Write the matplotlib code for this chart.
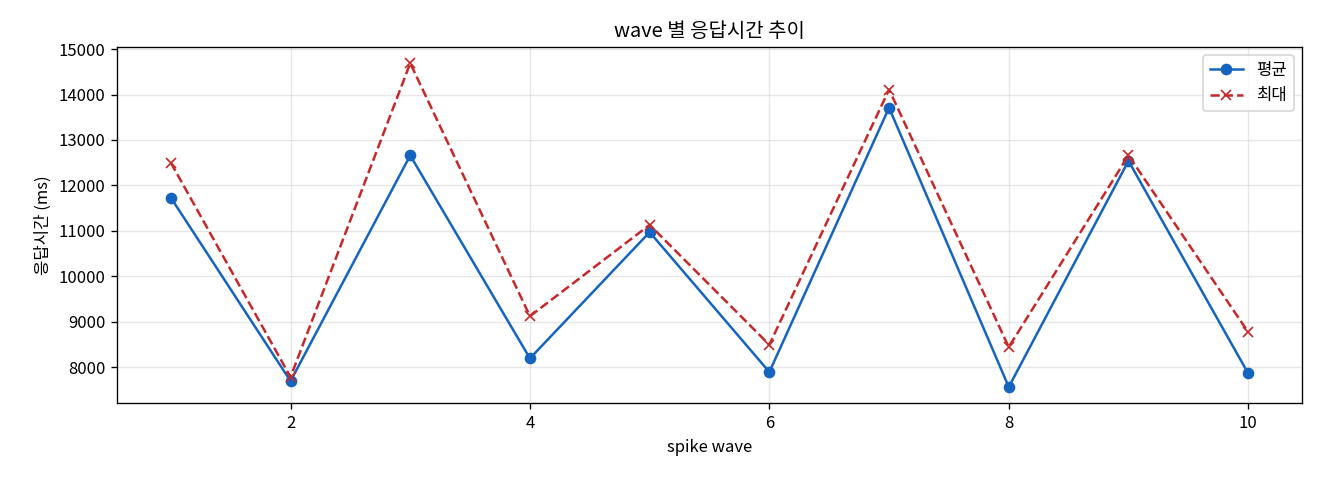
import matplotlib
matplotlib.use("Agg")
import matplotlib.pyplot as plt

plt.rcParams['font.family'] = ['Noto Sans CJK KR', 'DejaVu Sans']
plt.rcParams['axes.unicode_minus'] = False

waves = [1, 2, 3, 4, 5, 6, 7, 8, 9, 10]
avg_ms = [11730, 7690, 12660, 8190, 10970, 7890, 13710, 7560, 12540, 7860]
max_ms = [12500, 7780, 14690, 9120, 11130, 8490, 14110, 8440, 12660, 8770]

fig, ax = plt.subplots(figsize=(11, 4), dpi=120)
ax.plot(waves, avg_ms, marker='o', color='#1565C0', linewidth=1.5,
        markersize=6, label='평균')
ax.plot(waves, max_ms, marker='x', linestyle='--', color='#C62828',
        linewidth=1.5, markersize=6, label='최대')

ax.set_title('wave 별 응답시간 추이', fontsize=12)
ax.set_xlabel('spike wave', fontsize=10)
ax.set_ylabel('응답시간 (ms)', fontsize=10)
ax.grid(True, alpha=0.3)
ax.legend(loc='upper right')

fig.subplots_adjust(left=0.0886, right=0.9864, top=0.902, bottom=0.160)
fig.savefig('out.png', dpi=120)
